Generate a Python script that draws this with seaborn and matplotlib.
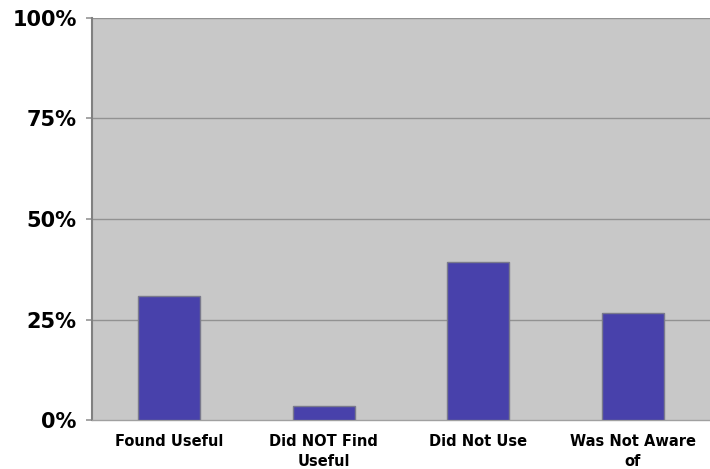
import matplotlib
matplotlib.use("Agg")
import matplotlib.pyplot as plt
import seaborn as sns
import pandas as pd
from matplotlib.ticker import FixedLocator

categories = ["Found Useful", "Did NOT Find\nUseful", "Did Not Use", "Was Not Aware\nof"]
values = [30.8, 3.4, 39.2, 26.5]
ytick_vals = [0, 25, 50, 75, 100]
ytick_labels = ["0%", "25%", "50%", "75%", "100%"]

df = pd.DataFrame({"category": categories, "value": values})

sns.set_theme(style="white")
plt.rcParams['font.family'] = ['DejaVu Sans']

fig = plt.figure(figsize=(7.1, 4.69), dpi=100)
ax = fig.add_axes([92/710, 49/469, 618/710, 402/469])
ax.set_facecolor("#C8C8C8")

sns.barplot(data=df, x="category", y="value", color="#4841AB", saturation=1,
            width=0.4, edgecolor="#7A7A8C", linewidth=1.0, ax=ax, zorder=3)

ax.set_ylim(0, 100)
ax.set_xlim(-0.5, 3.5)
ax.set_yticks(ytick_vals)
ax.set_yticklabels(ytick_labels, fontsize=15, fontweight="bold", color="black")
for y in ytick_vals[1:]:
    ax.axhline(y, color="#929292", linewidth=1.0, zorder=1)

ax.xaxis.set_major_locator(FixedLocator([-0.5, 0.5, 1.5, 2.5]))
ax.tick_params(axis="x", which="major", length=5, color="#999999", labelbottom=False)
ax.set_xticks([0, 1, 2, 3], minor=True)
ax.set_xticklabels(categories, minor=True, fontsize=10.5, fontweight="bold", color="black", linespacing=1.4)
ax.tick_params(axis="x", which="minor", length=0, pad=10)
ax.tick_params(axis="y", length=4, color="#999999", pad=7, left=True)

ax.set_xlabel("")
ax.set_ylabel("")
for s in ["top", "right"]:
    ax.spines[s].set_visible(False)
ax.spines["left"].set_color("#808080")
ax.spines["left"].set_linewidth(1.5)
ax.spines["bottom"].set_color("#A0A0A0")
ax.spines["bottom"].set_linewidth(1.0)

fig.savefig("out.png", dpi=100, facecolor="white")
